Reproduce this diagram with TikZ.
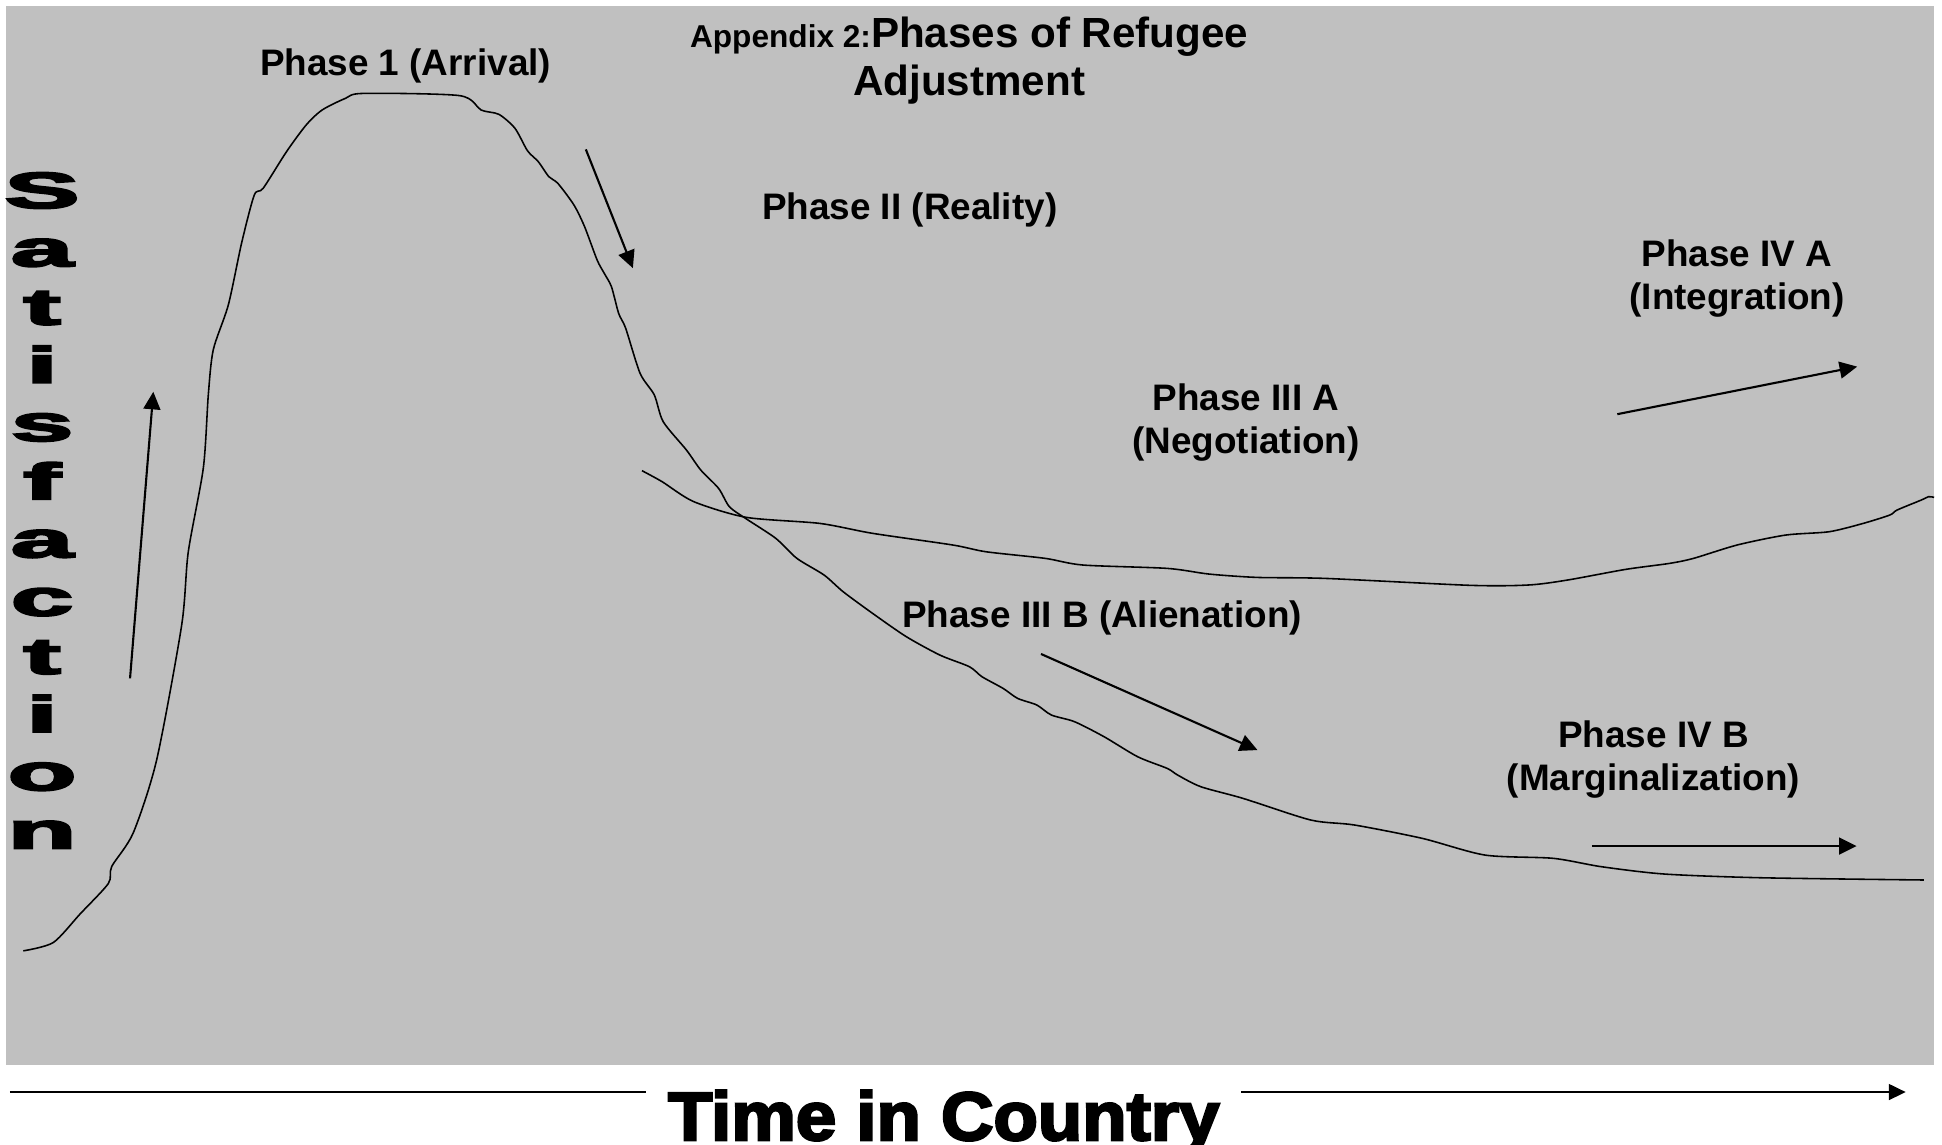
\documentclass[tikz,border=0pt]{standalone}
\usepackage{graphicx}
\usepackage{fontspec}
\setmainfont{Liberation Sans}
\newfontfamily\heavyfont[FakeBold=3.5]{Liberation Sans Bold}
\usetikzlibrary{arrows.meta}
\definecolor{slidegrey}{RGB}{192,192,192}

\tikzset{
	phase/.style={font=\fontsize{10.5}{12.3}\selectfont\bfseries, align=center, inner sep=0pt},
	phasecurve/.style={line width=0.45pt, smooth, tension=0.45, line join=round},
	trend/.style={line width=0.6pt, -{Triangle[length=5pt,width=4.8pt]}},
	satletter/.style={font=\heavyfont\fontsize{14.5}{14.5}\selectfont, anchor=base, inner sep=0pt},
}

\begin{document}
\begin{tikzpicture}[x=0.0123852cm, y=-0.0123852cm]
	\useasboundingbox (0,0) rectangle (1568,924);
	\fill[slidegrey] (4.8,4.8) rectangle (1561.6,859.7);

	% title and phase labels
	\node[font=\fontsize{12}{13.7}\selectfont\bfseries, align=center, inner sep=0pt] (title) at (782.5,48.8) {{\fontsize{9}{10}\selectfont Appendix 2:}Phases of Refugee\\Adjustment};
	\node[phase, anchor=base] (arrival) at (327.5,61) {Phase 1 (Arrival)};
	\node[phase, anchor=base] (reality) at (734.5,177) {Phase II (Reality)};
	\node[phase] (integration) at (1402.5,225) {Phase IV A\\(Integration)};
	\node[phase] (negotiation) at (1006,341) {Phase III A\\(Negotiation)};
	\node[phase, anchor=base] (alienation) at (889.8,507) {Phase III B (Alienation)};
	\node[phase] (marginal) at (1335,613) {Phase IV B\\(Marginalization)};

	% vertical axis
	\foreach \ch [count=\i from 0] in {S,a,t,i,s,f,a,c,t,i,o,n}
		\node[satletter] (sat\i) at (34,{168+47*\i}) {\scalebox{2.2}[1]{\ch}};

	% arrival, reality, alienation, marginalization
	\draw[phasecurve] plot coordinates {(18.8,767.7) (43,761) (64.6,738) (87.5,713.3) (90.2,699.6) (107.6,672.4) (126.5,613.5) (146.7,504.6) (152,445.7) (164.2,377.6) (168.2,318.6) (172.2,282.4) (184.4,246) (195.1,196.1) (205.3,157.5) (212.5,152) (231.3,122.5) (247.2,100.9) (260.1,88.8) (278.9,79.4) (293.3,75.4) (371.1,77.2) (388.4,88.8) (402.8,92.3) (415.8,103.6) (425.9,121.7) (434.6,130.5) (443.2,142.7) (450.4,148) (463.4,165.5) (472,183) (482.1,209.9) (487.9,220.7) (493.7,231.5) (499.5,253) (505.2,265.1) (516.8,301.4) (528.3,318.9) (535.5,340.5) (554.2,363.3) (565.8,379.5) (580.2,394.3) (588.9,409.1) (601.9,418.5) (626.3,434.6) (643.4,450.8) (665.4,464.3) (680.7,477.7) (704.5,495.2) (731.7,514) (758.9,528.9) (782.7,538.3) (792.9,546.4) (809.9,555.8) (821.7,563.9) (837.1,569.2) (848.9,577.3) (867.6,582.7) (891.4,594.8) (918.6,611) (942.4,620.4) (950.9,625.8) (969.6,635.2) (1003.6,644.6) (1058.4,662.1) (1093.6,666.1) (1148.4,676.9) (1199.2,690.4) (1254,693) (1293.2,699.8) (1344,705.7) (1422.2,708.7) (1553.3,710.5)};
	% negotiation, integration
	\draw[phasecurve] plot coordinates {(518.3,380) (534.6,388.9) (560.1,405) (602.6,417.7) (662,422.6) (704.5,430.6) (769.1,440) (796.3,445.5) (843.8,450.8) (874.4,456.2) (942.4,458.9) (976.3,463.5) (1015.3,466.2) (1070.1,467) (1187.5,472.6) (1234.4,472.3) (1265.7,468.3) (1312.6,459.7) (1347.8,454.9) (1367.4,450.8) (1402.7,440) (1441.8,432) (1476.9,429.3) (1504.3,422.6) (1525.9,415.8) (1531.7,411.8) (1551.3,403.7) (1557.2,401) (1561.6,401.6)};

	% trend arrows
	\coordinate (rise0) at (105,547.7);
	\coordinate (rise1) at (123.8,316.3);
	\coordinate (drop0) at (473,120.6);
	\coordinate (drop1) at (511,216.5);
	\coordinate (integ0) at (1305.8,334.4);
	\coordinate (integ1) at (1499.5,296);
	\coordinate (alien0) at (840.5,528);
	\coordinate (alien1) at (1015.3,605.6);
	\coordinate (marg0) at (1285.3,683.1);
	\coordinate (marg1) at (1499,683.1);
	\draw[trend] (rise0) -- (rise1);
	\draw[trend] (drop0) -- (drop1);
	\draw[trend] (integ0) -- (integ1);
	\draw[trend] (alien0) -- (alien1);
	\draw[trend] (marg0) -- (marg1);

	% time axis
	\node[font=\heavyfont\fontsize{19.5}{19.5}\selectfont, anchor=base, inner xsep=6pt, inner ysep=0pt] (time) at (762,920.5) {\scalebox{1.06}[1]{Time in Country}};
	\coordinate (axis0) at (8,881.7);
	\coordinate (axis1) at (1538.7,881.7);
	\draw[line width=0.6pt] (axis0) -- (axis0 -| time.west);
	\draw[line width=0.6pt, -{Triangle[length=4.8pt,width=4.5pt]}] (axis1 -| time.east) -- (axis1);
\end{tikzpicture}
\end{document}
